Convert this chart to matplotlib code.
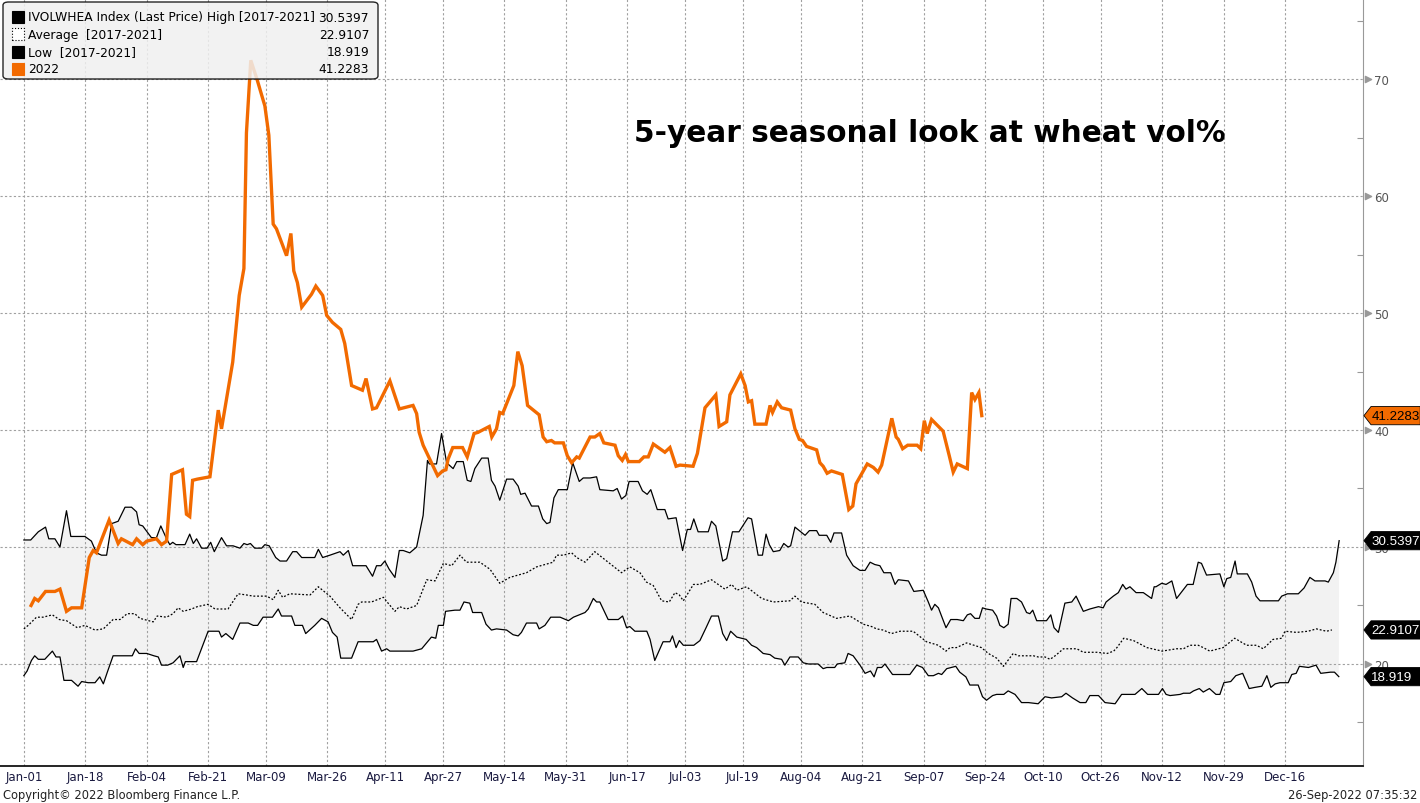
import matplotlib

matplotlib.use("Agg")
import matplotlib.pyplot as plt
from matplotlib.patches import FancyBboxPatch, Polygon, Rectangle
import numpy as np

# x values are days since Jan-01
tick_days = [0, 17, 34, 51, 67, 84, 100, 116, 133, 150, 167, 183, 199, 215, 232, 249, 266,
             282, 298, 315, 332, 349]
tick_labels = ["Jan-01", "Jan-18", "Feb-04", "Feb-21", "Mar-09", "Mar-26", "Apr-11", "Apr-27",
               "May-14", "May-31", "Jun-17", "Jul-03", "Jul-19", "Aug-04", "Aug-21", "Sep-07",
               "Sep-24", "Oct-10", "Oct-26", "Nov-12", "Nov-29", "Dec-16"]

y2022_days = [2, 3, 4, 6, 8.6, 10, 11.8, 13.2, 16, 18.1, 19.2, 20.1, 23.6, 26.1, 27, 30.1, 31.2,
              32.9, 34, 36.7, 38.1, 39.5, 40.9, 43.9, 45, 45.9, 46.7, 48, 51.5, 53.8, 54.7, 57.8,
              59.6, 60.9, 61.6, 62.8, 64.6, 66.7, 67.8, 69, 69.9, 72.7, 73.9, 74.7, 75.7, 76.9,
              79.6, 80.8, 82.7, 83.8, 85.4, 87.7, 88.8, 90.7, 93.7, 94.7, 96.5, 97.6, 101.3,
              103.9, 107.7, 108.7, 109.4, 110.5, 112.8, 114.5, 115.9, 116.8, 117.4, 118.7, 121.4,
              122.7, 124.6, 125.7, 128.8, 129.5, 130.8, 131.7, 132.5, 135.6, 136.7, 137.9, 139.4,
              142.6, 143.7, 144.7, 146.0, 146.9, 149.3, 150.4, 151.6, 153.0, 153.7, 156.7, 158.0,
              159.4, 160.5, 163.6, 164.5, 165.6, 166.5, 167.3, 170.3, 171.6, 172.8, 174.2, 177.4,
              178.8, 180.5, 181.6, 185.2, 186.4, 188.5, 191.5, 192.4, 194.5, 195.4, 198.4, 199.6,
              200.5, 201.4, 202.3, 205.4, 206.5, 207.2, 208.5, 209.7, 212.2, 213.4, 214.6, 215.5,
              216.6, 219.4, 220.3, 221.2, 222.3, 223.5, 226.5, 228.3, 229.4, 230.3, 233.4, 235.1,
              236.4, 237.4, 240.2, 241.4, 242.0, 243.2, 244.6, 247.2, 248.2, 249.2, 250.0, 251.2,
              254.4, 256.1, 257.2, 258.3, 261.1, 262.3, 263.2, 264.3, 265.1]
y2022_vals = [25.0, 25.6, 25.4, 26.2, 26.2, 26.4, 24.5, 24.8, 24.8, 29.1, 29.7, 29.5, 32.3, 30.3,
              30.7, 30.2, 30.7, 30.2, 30.5, 30.7, 30.2, 30.5, 36.2, 36.6, 32.8, 32.6, 35.7, 35.8,
              36.0, 41.7, 40.1, 45.8, 51.5, 53.8, 65.4, 71.6, 69.9, 67.7, 65.2, 57.6, 57.2, 54.9,
              56.8, 53.6, 52.6, 50.5, 51.6, 52.3, 51.5, 49.8, 49.2, 48.6, 47.4, 43.8, 43.4, 44.4,
              41.8, 41.9, 44.2, 41.8, 42.1, 41.4, 39.8, 38.7, 37.2, 36.1, 36.5, 36.6, 37.5, 38.5,
              38.5, 37.7, 39.7, 39.8, 40.3, 39.4, 40.1, 41.5, 41.4, 43.8, 46.7, 45.5, 42.1, 41.3,
              39.4, 39.0, 39.1, 38.9, 38.9, 37.8, 37.2, 37.7, 37.6, 39.4, 39.4, 39.7, 38.9, 38.7,
              37.8, 37.4, 37.9, 37.3, 37.3, 37.7, 37.7, 38.8, 38.1, 38.5, 36.9, 37.0, 36.9, 38.0,
              41.9, 43.0, 40.3, 40.7, 43.0, 44.8, 43.8, 42.4, 42.5, 40.5, 40.5, 42.1, 41.5, 42.4,
              41.9, 41.7, 40.1, 39.2, 39.1, 38.6, 38.3, 37.2, 36.9, 36.3, 36.5, 36.2, 33.2, 33.5,
              35.4, 37.1, 36.8, 36.4, 37.0, 41.0, 39.4, 39.2, 38.4, 38.7, 38.7, 38.4, 40.8, 39.7,
              40.9, 39.9, 37.8, 36.4, 37.1, 36.7, 43.2, 42.6, 43.2, 41.2283]

high_days = [0, 1.9, 4.0, 6.0, 6.9, 8.6, 10.0, 11.8, 13.0, 16.9, 18.7, 20.1, 21.5, 22.9, 24.3,
             26.1, 28.0, 29.8, 31.2, 31.9, 32.9, 35.3, 36.7, 37.9, 39.5, 40.4, 41.2, 42.1, 44.6,
             45.9, 46.9, 47.8, 49.2, 50.7, 51.7, 52.7, 54.7, 56.1, 57.9, 59.8, 60.9, 61.8, 62.7,
             63.9, 65.8, 66.7, 67.9, 69.7, 70.9, 72.7, 74.4, 75.5, 76.9, 80.5, 81.5, 82.7, 84.7,
             87.5, 88.4, 89.8, 91.0, 94.7, 96.5, 97.6, 98.8, 99.9, 101.1, 102.7, 103.9, 105.0,
             106.8, 108.7, 110.5, 111.7, 112.2, 114.2, 115.6, 117.0, 118.8, 119.8, 121.6, 122.7,
             123.7, 124.8, 126.7, 128.5, 129.4, 130.4, 131.7, 133.6, 135.4, 136.8, 137.5, 138.7,
             140.5, 142.4, 143.6, 144.7, 145.6, 146.7, 147.9, 150.4, 151.9, 153.7, 154.8, 156.7,
             158.5, 159.4, 163.1, 164.2, 165.4, 166.6, 167.5, 170.0, 171.2, 172.5, 173.5, 175.3,
             177.4, 178.3, 180.5, 182.3, 183.6, 184.5, 185.4, 186.6, 189.4, 190.3, 191.5, 193.4,
             194.5, 196.1, 197.9, 200.4, 201.4, 203.2, 204.4, 205.4, 206.3, 207.4, 209.2, 210.3,
             211.5, 212.2, 213.4, 216.2, 217.4, 219.4, 220.1, 222.2, 223.3, 224.2, 226.3, 227.7,
             229.5, 231.4, 232.8, 234.2, 235.5, 236.9, 238.0, 239.9, 241.1, 242.0, 244.8, 246.3,
             248.9, 250.3, 251.2, 252.1, 253.1, 255.2, 256.5, 258.3, 260.0, 261.1, 262.0, 263.2,
             264.4, 265.3, 266.3, 268.1, 269.2, 270.1, 271.2, 272.4, 273.2, 274.8, 276.1, 277.5,
             278.4, 279.2, 280.3, 283.0, 284.2, 285.1, 286.3, 288.1, 290.0, 291.2, 293.2, 295.0,
             297.4, 298.7, 299.5, 301.5, 302.9, 304.1, 305.0, 306.1, 307.8, 309.8, 312.1, 312.8,
             313.3, 314.9, 316.1, 317.7, 319.0, 322.0, 323.6, 325.0, 325.9, 327.3, 331.0, 332.1,
             332.9, 334.0, 335.2, 335.8, 338.6, 339.8, 341.0, 342.1, 345.3, 347.2, 348.1, 349.7,
             352.7, 354.3, 355.9, 357.3, 360.1, 361.0, 362.4, 363.1, 364.0]
high_vals = [30.6, 30.6, 31.3, 31.7, 30.7, 30.7, 30.0, 33.1, 30.9, 30.9, 30.5, 29.5, 29.3, 29.3,
             32.0, 32.2, 33.4, 33.4, 33.0, 31.9, 31.8, 30.8, 30.8, 31.8, 30.7, 30.2, 30.4, 30.2,
             30.2, 31.1, 30.3, 30.7, 29.9, 29.9, 30.4, 29.6, 30.8, 30.1, 30.1, 29.9, 30.3, 30.2,
             30.3, 29.9, 29.9, 30.2, 30.1, 29.1, 28.8, 28.8, 29.6, 29.6, 29.1, 29.1, 29.8, 29.1,
             29.3, 29.6, 29.3, 29.7, 28.4, 28.4, 27.5, 28.4, 28.4, 28.8, 28.1, 27.4, 29.7, 29.7,
             29.5, 30.0, 32.7, 37.4, 37.1, 37.1, 39.7, 37.2, 36.7, 37.3, 37.3, 35.7, 35.6, 36.7,
             37.6, 37.6, 35.7, 35.2, 34.0, 35.8, 35.8, 35.2, 34.5, 34.6, 33.5, 33.5, 32.4, 32.0,
             32.1, 34.2, 34.9, 34.9, 37.2, 35.6, 35.9, 35.9, 36.0, 34.9, 34.8, 35.0, 34.1, 34.4,
             35.6, 35.6, 34.8, 34.5, 34.9, 33.2, 33.2, 32.4, 32.5, 29.7, 31.5, 31.5, 32.4, 31.3,
             31.3, 32.2, 31.8, 28.8, 29.0, 31.3, 31.3, 32.5, 32.4, 29.3, 29.3, 31.1, 30.2, 29.6,
             29.7, 30.3, 30.0, 30.1, 31.7, 31.0, 31.4, 31.4, 31.0, 31.0, 30.4, 31.2, 31.2, 29.3,
             28.4, 28.0, 28.0, 28.7, 28.5, 28.4, 27.8, 27.8, 26.8, 27.2, 27.1, 26.2, 26.3, 25.3,
             24.6, 25.1, 24.8, 23.1, 23.8, 23.8, 23.7, 24.2, 24.3, 23.9, 23.9, 24.8, 24.7, 24.6,
             24.1, 23.3, 23.1, 23.4, 25.6, 25.6, 25.3, 24.4, 24.3, 24.6, 23.7, 23.7, 24.2, 23.1,
             22.7, 25.2, 25.3, 25.8, 24.5, 24.7, 24.9, 24.8, 25.3, 25.8, 26.1, 26.8, 26.4, 26.6,
             26.1, 26.1, 25.6, 26.6, 26.6, 26.9, 26.8, 27.1, 25.6, 26.8, 26.8, 28.7, 28.6, 27.6,
             27.7, 26.6, 27.3, 27.4, 28.8, 27.7, 27.7, 27.0, 25.8, 25.4, 25.4, 25.4, 25.8, 26.0,
             26.0, 26.5, 27.4, 27.1, 27.1, 27.0, 27.8, 28.7, 30.5397]

low_days = [0, 0.9, 2.1, 3.0, 4.0, 5.8, 7.9, 8.9, 10.0, 11.1, 13.2, 15.0, 16.0, 17.8, 19.7, 21.0,
            22.0, 23.1, 24.7, 28.9, 30.0, 30.9, 31.9, 34.0, 36.0, 37.2, 38.1, 39.8, 41.3, 43.2,
            44.1, 44.7, 47.8, 51.0, 54.0, 54.7, 55.9, 57.8, 59.8, 62.1, 63.5, 64.7, 66.2, 68.8,
            70.4, 71.3, 74.1, 75.0, 77.1, 78.0, 80.5, 82.4, 84.2, 85.4, 86.7, 87.7, 90.7, 92.5,
            96.7, 97.6, 99.0, 100.4, 101.3, 107.7, 110.1, 112.8, 114.0, 114.7, 116.1, 116.7,
            119.3, 120.7, 121.8, 123.4, 124.2, 126.7, 127.9, 129.4, 130.8, 133.6, 135.4, 136.8,
            137.7, 139.1, 141.9, 142.6, 144.2, 145.8, 148.4, 150.7, 152.1, 155.3, 156.2, 157.6,
            158.5, 159.4, 161.7, 164.5, 165.7, 166.8, 167.7, 169.1, 172.4, 173.3, 174.6, 176.9,
            178.8, 179.5, 180.5, 181.4, 182.5, 185.4, 187.1, 188.8, 190.3, 192.2, 193.4, 194.5,
            195.6, 197.3, 199.9, 201.4, 202.8, 204.6, 206.5, 207.8, 209.7, 210.6, 212.0, 214.3,
            215.7, 217.1, 219.8, 221.2, 222.2, 224.4, 225.1, 227.2, 228.1, 229.5, 231.4, 232.8,
            234.3, 235.3, 236.2, 237.4, 238.3, 240.4, 245.2, 247.1, 248.7, 250.3, 251.7, 253.1,
            254.0, 255.4, 257.9, 259.0, 260.7, 261.8, 264.1, 265.3, 266.4, 268.1, 269.2, 271.2,
            272.4, 274.3, 276.1, 278.0, 280.7, 282.6, 284.4, 287.2, 288.4, 290.2, 292.3, 293.9,
            295.0, 297.4, 299.2, 302.0, 303.8, 307.5, 309.4, 311.0, 314.0, 315.1, 316.1, 317.2,
            320.0, 320.9, 322.7, 323.7, 325.3, 326.4, 328.1, 329.9, 331.0, 332.1, 334.0, 335.4,
            337.3, 339.1, 340.7, 342.6, 344.0, 345.1, 346.3, 347.6, 349.9, 350.9, 352.1, 353.0,
            355.5, 357.6, 358.9, 361.6, 362.7, 363.9]
low_vals = [19.0, 19.4, 20.3, 20.7, 20.4, 20.4, 21.1, 20.6, 20.6, 18.6, 18.6, 18.1, 18.5, 18.4,
            18.4, 18.9, 18.3, 19.3, 20.7, 20.7, 20.7, 21.3, 20.9, 20.9, 20.7, 20.6, 19.9, 19.9,
            20.1, 20.7, 19.7, 20.2, 20.2, 22.8, 22.8, 22.3, 22.6, 22.1, 23.5, 23.5, 23.3, 23.3,
            24.0, 24.0, 24.7, 24.1, 24.1, 23.3, 23.3, 22.6, 23.3, 23.9, 23.6, 22.7, 22.3, 20.5,
            20.5, 21.9, 21.9, 22.1, 21.1, 21.3, 21.1, 21.1, 21.3, 22.3, 22.2, 23.3, 23.3, 24.5,
            24.6, 24.6, 25.3, 25.2, 24.4, 24.4, 23.4, 22.9, 23.0, 22.9, 22.5, 22.4, 22.7, 23.5,
            23.5, 23.0, 23.3, 24.0, 24.0, 23.7, 24.0, 24.4, 24.7, 25.6, 25.3, 25.3, 23.8, 23.8,
            24.1, 23.1, 23.2, 22.8, 22.8, 22.1, 20.3, 21.9, 21.9, 22.4, 21.4, 22.0, 21.6, 21.6,
            22.0, 23.1, 24.1, 24.1, 22.6, 22.0, 22.8, 22.3, 22.1, 21.6, 21.4, 20.9, 20.8, 20.5,
            20.4, 19.9, 20.6, 20.6, 20.1, 20.0, 20.0, 19.6, 19.7, 19.7, 20.0, 20.1, 20.9, 20.7,
            19.9, 19.2, 19.4, 18.9, 19.7, 19.7, 20.0, 19.1, 19.1, 19.9, 19.7, 19.0, 19.0, 19.2,
            19.1, 19.6, 19.8, 19.3, 18.9, 18.2, 18.2, 17.2, 16.9, 17.3, 17.4, 17.4, 17.7, 17.4,
            16.7, 16.7, 16.6, 17.2, 17.1, 17.2, 17.5, 17.1, 16.7, 16.7, 17.3, 17.3, 16.7, 16.6,
            17.4, 17.4, 17.9, 17.4, 17.4, 17.9, 17.4, 17.3, 17.4, 17.5, 17.5, 17.7, 17.9, 17.6,
            17.9, 17.4, 17.4, 18.4, 18.5, 19.0, 19.2, 17.9, 18.0, 18.1, 19.0, 18.0, 18.3, 18.4,
            18.4, 19.1, 19.2, 19.8, 19.7, 19.9, 19.2, 19.3, 19.3, 18.919]

avg_days = [0, 1.2, 3.5, 5.3, 7.9, 9.8, 11.8, 14.8, 16.9, 19.7, 22.0, 24.7, 26.6, 28.6, 30.7,
            32.1, 35.8, 36.9, 39.5, 41.3, 42.7, 44.1, 46.4, 48.0, 51.0, 52.9, 56.5, 57.8, 59.3,
            61.6, 63.5, 67.2, 69.0, 70.4, 71.6, 73.6, 79.2, 81.5, 84.7, 87.5, 90.7, 92.5, 93.5,
            96.2, 99.5, 100.8, 102.7, 103.9, 105.9, 108.7, 109.6, 111.5, 113.8, 116.1, 118.4,
            120.7, 122.5, 126.2, 129.0, 131.7, 134.5, 139.1, 141.9, 146.5, 147.4, 149.3, 151.6,
            153.0, 155.3, 158.0, 161.3, 165.4, 167.7, 170.5, 172.3, 174.2, 176.5, 178.6, 180.2,
            181.4, 182.5, 185.3, 187.1, 190.3, 194.0, 195.9, 197.3, 200.0, 204.2, 207.4, 212.0,
            213.4, 215.2, 218.9, 221.2, 224.9, 228.6, 232.3, 234.6, 236.0, 237.8, 240.1, 242.5,
            246.1, 249.8, 253.1, 255.2, 256.3, 258.1, 260.9, 265.0, 266.9, 269.2, 271.1, 273.8,
            275.2, 279.4, 280.7, 282.6, 284.0, 285.4, 287.7, 291.4, 293.2, 297.0, 299.8, 301.6,
            302.5, 304.4, 307.1, 310.8, 315.0, 319.0, 320.9, 322.7, 325.0, 326.4, 328.2, 331.9,
            335.1, 338.4, 341.1, 343.0, 345.7, 348.1, 349.0, 352.2, 355.4, 357.7, 360.5, 362.0]
avg_vals = [23.0, 23.3, 24.0, 24.0, 24.2, 23.8, 23.7, 23.1, 23.3, 22.9, 23.0, 23.8, 23.8, 24.3,
            24.3, 23.9, 23.6, 24.1, 24.0, 24.3, 24.8, 24.5, 24.7, 24.9, 25.1, 24.7, 24.7, 25.3,
            26.0, 25.9, 25.8, 25.8, 25.5, 26.3, 25.7, 26.0, 25.9, 26.6, 25.8, 24.8, 23.8, 25.1,
            25.3, 25.3, 25.7, 25.2, 24.5, 24.9, 24.7, 25.0, 25.7, 27.2, 27.1, 28.6, 28.4, 29.3,
            28.7, 28.7, 28.1, 26.9, 27.4, 27.8, 28.3, 28.7, 29.3, 29.3, 29.5, 29.1, 28.7, 29.6,
            28.8, 27.8, 28.3, 27.8, 27.0, 26.7, 25.4, 25.3, 26.1, 25.9, 25.4, 26.8, 26.8, 27.2,
            26.4, 26.8, 26.3, 26.6, 25.6, 25.3, 25.4, 25.8, 25.3, 25.1, 24.4, 23.9, 24.1, 23.4,
            23.2, 23.0, 22.9, 22.6, 22.8, 22.8, 21.9, 21.6, 21.1, 21.4, 21.4, 21.8, 21.4, 20.9,
            20.5, 19.8, 20.9, 20.7, 20.7, 20.6, 20.6, 20.4, 20.7, 21.3, 21.3, 21.0, 21.0, 20.9,
            21.1, 21.4, 22.2, 22.0, 21.4, 21.1, 21.3, 21.3, 21.6, 21.6, 21.4, 21.1, 21.4, 22.2,
            21.6, 21.6, 21.3, 22.1, 22.2, 22.8, 22.7, 22.8, 23.0, 22.8, 22.9107]

ORANGE = "#f26a00"
W, H = 1420, 804

fig = plt.figure(figsize=(W / 100, H / 100), dpi=100)
ax = fig.add_axes([0, 37 / H, 1363 / W, 767 / H])
ax.set_xlim(-6.6, 370.6)
ax.set_ylim(11.28, 76.84)

ax.fill(np.concatenate([high_days, low_days[::-1]]),
        np.concatenate([high_vals, low_vals[::-1]]),
        color="#f2f2f2", lw=0, zorder=1)
ax.plot(high_days, high_vals, color="black", lw=0.9, zorder=3)
ax.plot(low_days, low_vals, color="black", lw=0.9, zorder=3)
ax.plot(avg_days, avg_vals, color="black", lw=0.9, ls=(0, (1.5, 1.5)), zorder=3)
ax.plot(y2022_days, y2022_vals, color=ORANGE, lw=2.4, zorder=4, solid_joinstyle="miter")

ax.set_xticks(tick_days)
ax.set_xticklabels(tick_labels, fontsize=8.5, color="#1a1a40")
ax.tick_params(axis="x", length=0, pad=3)
ax.set_yticks([20, 30, 40, 50, 60, 70])
ax.set_yticks([15, 25, 35, 45, 55, 65, 75], minor=True)
ax.yaxis.tick_right()
ax.tick_params(axis="y", which="major", length=0, pad=8, labelsize=8.5, labelcolor="#555555")
ax.tick_params(axis="y", which="minor", length=4, direction="in", color="#999999", width=0.8)
ax.grid(True, which="major", color="#a0a0a0", ls=(0, (2, 2)), lw=0.8, zorder=0)
for s in ["top", "left"]:
    ax.spines[s].set_visible(False)
ax.spines["right"].set_color("#999999")
ax.spines["bottom"].set_color("black")
ax.spines["bottom"].set_linewidth(1.2)

# small triangles next to right axis labels
yt = ax.get_yaxis_transform()
ax.scatter([1.0035] * 6, [20, 30, 40, 50, 60, 70], marker=">", s=20, color="#999999",
           transform=yt, clip_on=False, zorder=5)

# value tags on right axis
tags = [(41.2283, "41.2283", ORANGE, "black"), (30.5397, "30.5397", "black", "white"),
        (22.9107, "22.9107", "black", "white"), (18.919, "18.919", "black", "white")]
for val, txt, bg, fg in tags:
    hh = 0.78
    poly = Polygon([(1.0007, val), (1.0059, val + hh), (1.042, val + hh), (1.042, val - hh),
                    (1.0059, val - hh)], closed=True, facecolor=bg, edgecolor="black", lw=0.6,
                   transform=yt, clip_on=False, zorder=6)
    ax.add_patch(poly)
    ax.text(1.0062, val, txt, transform=yt, ha="left", va="center", fontsize=9.6,
            family="Liberation Sans", color=fg, clip_on=False, zorder=7)

# legend box
def fx(px):
    return px / W


def fy(py):
    return 1 - py / H


legend_bg = FancyBboxPatch((fx(3), fy(80)), fx(375), 77 / H,
                           boxstyle="round,pad=0,rounding_size=0.004",
                           transform=fig.transFigure, facecolor="#f0f0f0", edgecolor="black",
                           lw=1.0, alpha=0.85, zorder=10)
fig.patches.append(legend_bg)
rows = [("IVOLWHEA Index (Last Price) High [2017-2021]", "30.5397", "black", "black", "-"),
        ("Average  [2017-2021]", "22.9107", "white", "black", ":"),
        ("Low  [2017-2021]", "18.919", "black", "black", "-"),
        ("2022", "41.2283", ORANGE, ORANGE, "-")]
for i, (label, value, fc, ec, ls) in enumerate(rows):
    yc = 18 + i * 17.3
    sq = Rectangle((fx(12), fy(yc + 6)), 12 / W, 12 / H, transform=fig.transFigure,
                   facecolor=fc, edgecolor=ec, lw=0.8, ls=ls, zorder=11)
    fig.patches.append(sq)
    fig.text(fx(28), fy(yc), label, fontsize=8.8, color="black", ha="left", va="center",
             zorder=12)
    fig.text(fx(369), fy(yc), value, fontsize=8.8, color="black", ha="right", va="center",
             zorder=12)

fig.text(fx(930), fy(133), "5-year seasonal look at wheat vol%", fontsize=21.3,
         fontweight="bold", ha="center", va="center", color="black")
fig.text(fx(3), fy(796), "Copyright\u00a9 2022 Bloomberg Finance L.P.", fontsize=8.3,
         color="#222222", ha="left", va="center")
fig.text(fx(1417), fy(796), "26-Sep-2022 07:35:32", fontsize=8.3, color="#222222",
         ha="right", va="center")

fig.savefig("out.png", dpi=100)
plt.close(fig)
